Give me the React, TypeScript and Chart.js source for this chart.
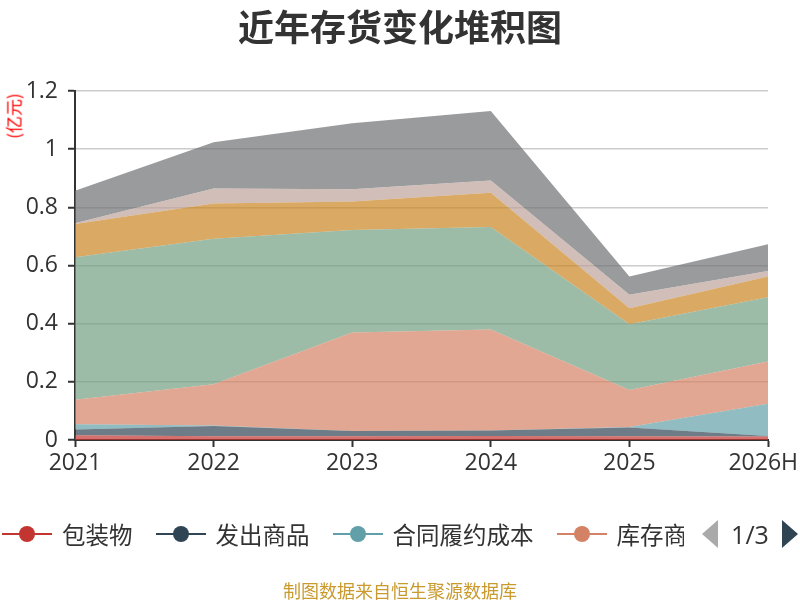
import { useEffect, useRef } from "react"
import { Chart, registerables } from "chart.js"

Chart.register(...registerables)

const years = ["2021", "2022", "2023", "2024", "2025", "2026H"]

// 亿元
const packaging = [0.016, 0.013, 0.013, 0.014, 0.013, 0.012]
const goodsShipped = [0.02, 0.035, 0.018, 0.019, 0.03, 0.002]
const contractCost = [0.018, 0.002, 0, 0, 0.002, 0.111]
const stockGoods = [0.084, 0.142, 0.339, 0.347, 0.127, 0.145]
const consigned = [0, 0, 0, 0, 0, 0]
const rawMaterials = [0.49, 0.5, 0.352, 0.352, 0.226, 0.221]
const wip = [0.115, 0.121, 0.098, 0.118, 0.055, 0.071]
const turnover = [0.002, 0.052, 0.042, 0.042, 0.046, 0.019]
const semiFinished = [0.112, 0.159, 0.227, 0.239, 0.063, 0.092]

const seriesNames = [
  "包装物",
  "发出商品",
  "合同履约成本",
  "库存商品",
  "委托加工物资",
  "原材料",
  "在产品",
  "周转材料",
  "自制半成品",
]
const seriesData = [
  packaging,
  goodsShipped,
  contractCost,
  stockGoods,
  consigned,
  rawMaterials,
  wip,
  turnover,
  semiFinished,
]
const seriesColors = [
  "#c23531",
  "#2f4554",
  "#61a0a8",
  "#d48265",
  "#91c7ae",
  "#749f83",
  "#ca8622",
  "#bda29a",
  "#6e7074",
]

const yTicks = [0, 0.2, 0.4, 0.6, 0.8, 1, 1.2]

const PER_PAGE = 4
const CJK = '"Noto Sans CJK SC", "Open Sans", sans-serif'
const NUM = '"Open Sans", "Noto Sans CJK SC", sans-serif'

function withAlpha(hex: string, a: number) {
  const n = parseInt(hex.slice(1), 16)
  return `rgba(${(n >> 16) & 255}, ${(n >> 8) & 255}, ${n & 255}, ${a})`
}

// keep the last x label inside the canvas, like the original does
const keepLabelsInside = {
  id: "keepLabelsInside",
  beforeDraw(chart: any) {
    const scale = chart.scales.x
    if (!scale) return
    const items = scale.getLabelItems()
    const ctx = chart.ctx
    ctx.save()
    items.forEach((item: any) => {
      ctx.font = item.font.string
      const w = ctx.measureText(String(item.label)).width
      const t = item.options.translation
      if (t[0] + w / 2 > chart.width - 2) t[0] = chart.width - 2 - w / 2
    })
    ctx.restore()
  },
}

function StackChart() {
  const chartRef = useRef<HTMLCanvasElement>(null)
  const chartInstance = useRef<Chart | null>(null)

  useEffect(() => {
    if (!chartRef.current) return
    const ctx = chartRef.current.getContext("2d")
    if (!ctx) return

    if (chartInstance.current) {
      chartInstance.current.destroy()
    }

    chartInstance.current = new Chart(ctx, {
      type: "line",
      data: {
        labels: years,
        datasets: seriesNames.map((name, i) => ({
          label: name,
          data: seriesData[i],
          backgroundColor: withAlpha(seriesColors[i], 0.7),
          borderColor: seriesColors[i],
          borderWidth: 0,
          pointRadius: 0,
          tension: 0,
          fill: i === 0 ? "origin" : "-1",
        })),
      },
      options: {
        responsive: false,
        animation: false,
        layout: {
          padding: { top: 91, right: 32, bottom: 0, left: 0 },
        },
        plugins: {
          legend: { display: false },
          title: { display: false },
          tooltip: { enabled: false },
        },
        scales: {
          x: {
            offset: false,
            grid: {
              drawOnChartArea: false,
              drawTicks: true,
              tickLength: 7,
              tickColor: "#333",
              tickWidth: 2,
            },
            border: { color: "#333", width: 2 },
            ticks: {
              color: "#333",
              font: { size: 23, family: NUM },
              padding: 3,
              maxRotation: 0,
              autoSkip: false,
            },
            afterFit: (scale: any) => {
              scale.height = 160
              scale.paddingLeft = 0
              scale.paddingRight = 0
            },
          },
          y: {
            stacked: true,
            min: 0,
            max: 1.2,
            afterBuildTicks: (scale: any) => {
              scale.ticks = yTicks.map((value) => ({ value }))
            },
            grid: {
              color: "#ccc",
              lineWidth: 1.5,
              drawTicks: true,
              tickLength: 7,
              tickColor: "#333",
              tickWidth: 2,
            },
            border: { color: "#333", width: 2 },
            ticks: {
              color: "#333",
              font: { size: 23, family: NUM },
              padding: 10,
              callback: (v) => String(v),
            },
            afterFit: (scale: any) => {
              scale.width = 75
              scale.paddingTop = 0
              scale.paddingBottom = 0
            },
          },
        },
      },
      plugins: [keepLabelsInside],
    })

    return () => {
      if (chartInstance.current) {
        chartInstance.current.destroy()
        chartInstance.current = null
      }
    }
  }, [])

  return <canvas ref={chartRef} width={800} height={600} style={{ display: "block" }} />
}

function Legend() {
  const pages = Math.ceil(seriesNames.length / PER_PAGE)
  const items = seriesNames.slice(0, PER_PAGE)
  return (
    <>
      <div
        style={{
          position: "absolute",
          left: 0,
          top: 518,
          width: 684,
          height: 32,
          overflow: "hidden",
          display: "flex",
          alignItems: "center",
          whiteSpace: "nowrap",
        }}
      >
        {items.map((name, i) => (
          <div
            key={name}
            style={{ display: "flex", alignItems: "center", flexShrink: 0, marginLeft: i === 0 ? 2 : 23 }}
          >
            <div style={{ position: "relative", width: 50, height: 18 }}>
              <div
                style={{ position: "absolute", left: 0, right: 0, top: 8, height: 2, background: seriesColors[i] }}
              />
              <div
                style={{
                  position: "absolute",
                  left: 17,
                  top: 1,
                  width: 16,
                  height: 16,
                  borderRadius: "50%",
                  background: seriesColors[i],
                }}
              />
            </div>
            <span style={{ marginLeft: 10, fontSize: 23.5, lineHeight: "32px", color: "#333", fontFamily: CJK }}>
              {name}
            </span>
          </div>
        ))}
      </div>
      <svg style={{ position: "absolute", left: 700, top: 518, width: 100, height: 32 }} viewBox="0 0 100 32">
        <polygon points="18,2 2,16 18,30" fill="#aaa" />
        <polygon points="82,2 98,16 82,30" fill="#2f4554" />
      </svg>
      <div
        style={{
          position: "absolute",
          left: 720,
          top: 518,
          width: 60,
          height: 32,
          lineHeight: "32px",
          textAlign: "center",
          fontSize: 25,
          color: "#333",
          fontFamily: NUM,
        }}
      >
        1/{pages}
      </div>
    </>
  )
}

export default function App() {
  useEffect(() => {
    document.body.style.margin = "0"
  }, [])

  return (
    <div style={{ position: "relative", width: 800, height: 600, background: "#fff", overflow: "hidden" }}>
      <StackChart />
      <div
        style={{
          position: "absolute",
          left: 0,
          top: 0,
          width: 800,
          height: 50,
          lineHeight: "50px",
          textAlign: "center",
          fontSize: 36,
          fontWeight: "bold",
          color: "#333",
          fontFamily: CJK,
        }}
      >
        近年存货变化堆积图
      </div>
      <div
        style={{
          position: "absolute",
          left: 13,
          top: 116,
          transform: "translate(-50%, -50%) rotate(-90deg)",
          fontSize: 17,
          lineHeight: 1,
          color: "#ff0000",
          whiteSpace: "nowrap",
          fontFamily: CJK,
        }}
      >
        (亿元)
      </div>
      <Legend />
      <div
        style={{
          position: "absolute",
          left: 0,
          top: 578,
          width: 800,
          height: 24,
          lineHeight: "24px",
          textAlign: "center",
          fontSize: 18,
          color: "#c99a2e",
          fontFamily: CJK,
        }}
      >
        制图数据来自恒生聚源数据库
      </div>
    </div>
  )
}
